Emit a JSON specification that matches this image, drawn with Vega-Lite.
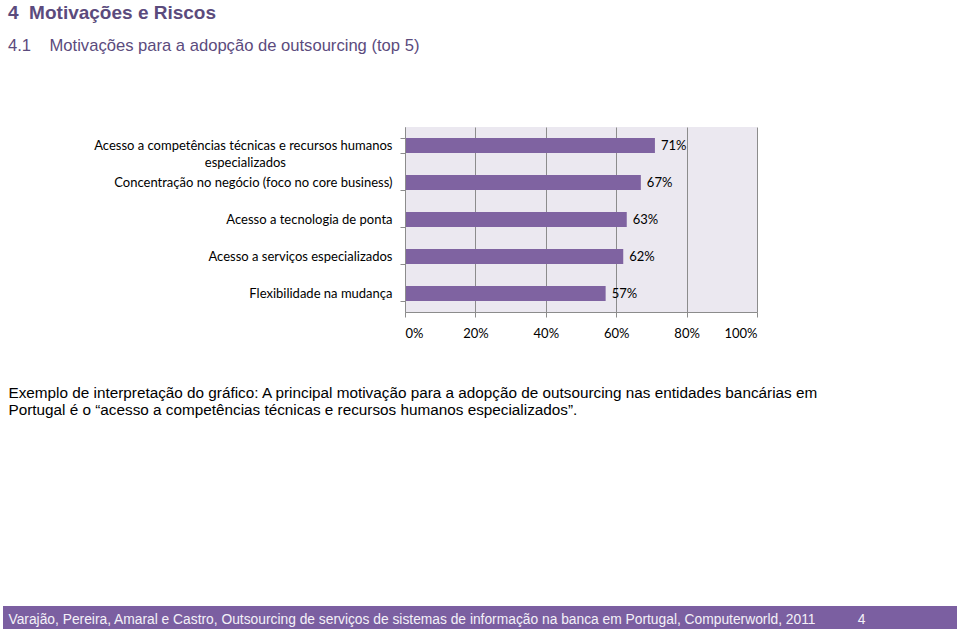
{
  "$schema": "https://vega.github.io/schema/vega-lite/v6.json",
  "autosize": "none",
  "width": 352,
  "height": 185,
  "padding": {"left": 405, "top": 127, "right": 203, "bottom": 317},
  "background": "white",
  "view": {"fill": "#ebe8f0", "stroke": null},
  "title": {
    "text": "4\u00a0\u00a0Motivações e Riscos",
    "subtitle": "4.1\u00a0\u00a0\u00a0\u00a0Motivações para a adopção de outsourcing (top 5)",
    "anchor": "start",
    "frame": "group",
    "dx": -397,
    "offset": 66,
    "font": "Liberation Sans",
    "fontSize": 19,
    "fontWeight": "bold",
    "color": "#5b4b7d",
    "subtitleFont": "Liberation Sans",
    "subtitleFontSize": 16.6,
    "subtitleColor": "#5b4b7d",
    "subtitlePadding": 15
  },
  "data": {
    "values": [
      {"motivo": "Acesso a competências técnicas e recursos humanos especializados", "valor": 0.71, "rotulo": "71%"},
      {"motivo": "Concentração no negócio (foco no core business)", "valor": 0.67, "rotulo": "67%"},
      {"motivo": "Acesso a tecnologia de ponta", "valor": 0.63, "rotulo": "63%"},
      {"motivo": "Acesso a serviços especializados", "valor": 0.62, "rotulo": "62%"},
      {"motivo": "Flexibilidade na mudança", "valor": 0.57, "rotulo": "57%"}
    ]
  },
  "layer": [
    {
      "mark": {"type": "bar", "color": "#7f63a1"},
      "encoding": {
        "y": {
          "field": "motivo",
          "type": "nominal",
          "sort": null,
          "scale": {"paddingInner": 0.6, "paddingOuter": 0.3},
          "axis": {
            "zindex": 1,
            "domainColor": "#8c8c8c",
            "tickColor": "#8c8c8c",
            "tickSize": 5,
            "tickBand": "extent",
            "labelPadding": 8,
            "labelFont": "Lato",
            "labelFontSize": 13,
            "labelColor": "#000000",
            "labelLimit": 0,
            "labelLineHeight": 17,
            "labelExpr": "length(datum.label) > 60 ? ['Acesso a competências técnicas e recursos humanos', 'especializados\u00a0\u00a0\u00a0\u00a0\u00a0\u00a0\u00a0\u00a0\u00a0\u00a0\u00a0\u00a0\u00a0\u00a0\u00a0\u00a0\u00a0\u00a0\u00a0\u00a0\u00a0\u00a0\u00a0\u00a0\u00a0\u00a0\u00a0\u00a0\u00a0\u00a0\u00a0\u00a0\u2060'] : datum.label",
            "title": "Varajão, Pereira, Amaral e Castro, Outsourcing de serviços de sistemas de informação na banca em Portugal, Computerworld, 2011\u00a0\u00a0\u00a0\u00a0\u00a0\u00a0\u00a0\u00a0\u00a0\u00a0\u00a04",
            "titleAngle": 0,
            "titleX": -397,
            "titleY": 496,
            "titleAlign": "left",
            "titleBaseline": "alphabetic",
            "titleFont": "Liberation Sans",
            "titleFontSize": 13.8,
            "titleFontWeight": "normal",
            "titleColor": "#f4f1f8"
          }
        },
        "x": {
          "field": "valor",
          "type": "quantitative",
          "scale": {"domain": [0, 1]},
          "axis": {
            "values": [0, 0.2, 0.4, 0.6, 0.8, 1],
            "format": ".0%",
            "grid": true,
            "gridColor": "#8c8c8c",
            "domainColor": "#8c8c8c",
            "tickColor": "#8c8c8c",
            "tickSize": 5,
            "labelPadding": 10,
            "labelFont": "Lato",
            "labelFontSize": 13,
            "labelColor": "#000000",
            "title": [
              "Exemplo de interpretação do gráfico: A principal motivação para a adopção de outsourcing nas entidades bancárias em",
              "Portugal é o “acesso a competências técnicas e recursos humanos especializados”."
            ],
            "titleX": -397,
            "titleY": 85,
            "titleAlign": "left",
            "titleBaseline": "alphabetic",
            "titleFont": "Liberation Sans",
            "titleFontSize": 15.3,
            "titleFontWeight": "normal",
            "titleColor": "#000000",
            "titleLineHeight": 17
          }
        }
      }
    },
    {
      "mark": {"type": "text", "align": "left", "baseline": "middle", "dx": 6, "font": "Lato", "fontSize": 13, "color": "#000000"},
      "encoding": {
        "y": {"field": "motivo", "type": "nominal", "sort": null},
        "x": {"field": "valor", "type": "quantitative"},
        "text": {"field": "rotulo"}
      }
    },
    {
      "data": {"values": [{}]},
      "mark": {"type": "rect", "color": "#7b5fa1"},
      "encoding": {
        "x": {"value": -402},
        "x2": {"value": 552},
        "y": {"value": 479},
        "y2": {"value": 502}
      }
    }
  ]
}
